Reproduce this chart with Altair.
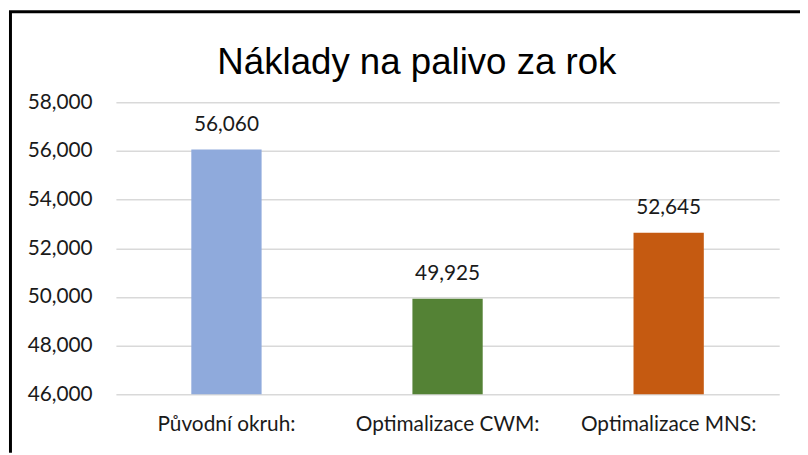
import altair as alt
import pandas as pd

title_text = "Náklady na palivo za rok"
categories = ["Původní okruh:", "Optimalizace CWM:", "Optimalizace MNS:"]
values = [56060, 49925, 52645]
colors = ["#8FAADC", "#548235", "#C55A11"]
y_ticks = [46000, 48000, 50000, 52000, 54000, 56000, 58000]

df = pd.DataFrame({"kategorie": categories, "naklady": values, "barva": colors})

LABEL_FONT = "Lato"

base = alt.Chart(df).encode(
    x=alt.X("kategorie:N", sort=categories, title=None,
            axis=alt.Axis(labelAngle=0, ticks=False, domain=False, labelLimit=400,
                          labelFont=LABEL_FONT, labelFontSize=21, labelColor="#1a1a1a",
                          labelBaseline="alphabetic", labelPadding=37, grid=False)),
)

bars = base.mark_bar(size=71).encode(
    y=alt.Y("naklady:Q", title=None,
            scale=alt.Scale(domain=[46000, 58000], zero=False, nice=False),
            axis=alt.Axis(values=y_ticks, format=",.0f", ticks=False, domain=False,
                          labelFont=LABEL_FONT, labelFontSize=21, labelColor="#1a1a1a",
                          labelPadding=24, gridColor="#d9d9d9", gridWidth=1.5)),
    y2=alt.datum(46000),
    color=alt.Color("barva:N", scale=None, legend=None),
)

labels = base.mark_text(font=LABEL_FONT, fontSize=21, color="#1a1a1a",
                        baseline="alphabetic", dy=-19).encode(
    y=alt.Y("naklady:Q"),
    text=alt.Text("naklady:Q", format=",.0f"),
)

title_df = pd.DataFrame({"t": [title_text]})
title = alt.Chart(title_df).mark_text(font="Liberation Sans", fontSize=37, color="black",
                                      baseline="alphabetic", align="center").encode(
    x=alt.value(304), y=alt.value(-29), text="t:N")

border_left = alt.Chart(title_df).mark_rule(color="black", strokeWidth=3).encode(
    x=alt.value(-106.5), y=alt.value(-92), y2=alt.value(354))
border_top = alt.Chart(title_df).mark_rule(color="black", strokeWidth=3).encode(
    x=alt.value(-108), x2=alt.value(691), y=alt.value(-91.5))

chart = alt.layer(bars, labels, title, border_left, border_top).properties(
    width=670, height=295,
    autosize=alt.AutoSizeParams(type="none"),
    padding={"left": 109, "top": 93, "right": 21, "bottom": 59},
).configure(background="white").configure_view(strokeWidth=0)

chart.save("out.html", embed_options={"renderer": "svg", "actions": False})
